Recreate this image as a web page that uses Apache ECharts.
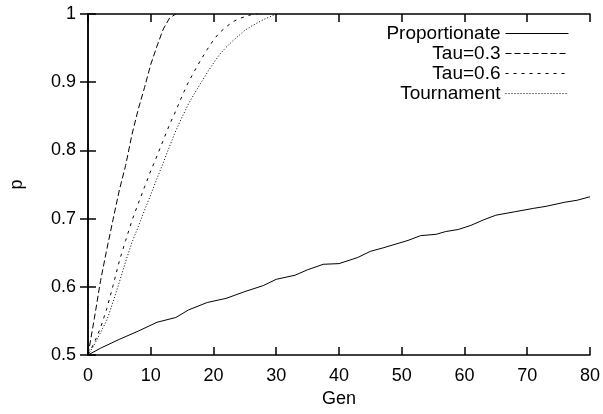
<!DOCTYPE html>
<html>
<head>
<meta charset="utf-8">
<script src="https://cdn.jsdelivr.net/npm/echarts@6/dist/echarts.min.js"></script>
<style>
  html, body { margin: 0; padding: 0; background: #fff; }
  #chart { width: 603px; height: 414px; }
</style>
</head>
<body>
<div id="chart"></div>
<script>
// values
var propGen = [0, 2, 5, 8, 11, 14, 16, 19, 22, 25, 28, 30, 33, 35, 37.5, 40, 43, 45, 47, 51, 53, 55.5, 57, 59, 61, 63, 65, 68, 71, 73, 76, 78, 80];
var propP = [0.5, 0.51, 0.523, 0.535, 0.548, 0.555, 0.566, 0.577, 0.583, 0.593, 0.602, 0.611, 0.617, 0.625, 0.633, 0.634, 0.643, 0.652, 0.657, 0.668, 0.675, 0.677, 0.681, 0.684, 0.69, 0.698, 0.705, 0.71, 0.715, 0.718, 0.724, 0.727, 0.732];

var tau3Gen = [0, 1, 2, 3, 4, 5, 6, 7, 8, 9, 10, 11, 12, 13, 14];
var tau3P = [0.5, 0.553, 0.609, 0.655, 0.699, 0.742, 0.778, 0.823, 0.86, 0.892, 0.926, 0.953, 0.978, 0.994, 1.0];

var tau6Gen = [0, 1, 2, 3, 4, 5, 6, 7, 8, 9, 10, 11, 12, 13, 14, 15, 16, 17, 18, 19, 20, 21, 22, 23, 24, 25, 26, 27];
var tau6P = [0.5, 0.518, 0.54, 0.568, 0.602, 0.638, 0.668, 0.697, 0.722, 0.746, 0.77, 0.792, 0.815, 0.838, 0.858, 0.88, 0.9, 0.917, 0.933, 0.948, 0.962, 0.973, 0.981, 0.988, 0.993, 0.996, 0.999, 1.0];

var tournGen = [0, 1, 2, 3, 4, 5, 6, 7, 8, 9, 10, 11, 12, 13, 14, 15, 16, 17, 18, 19, 20, 21, 22, 23, 24, 25, 26, 27, 28, 29, 30];
var tournP = [0.5, 0.515, 0.533, 0.551, 0.578, 0.607, 0.637, 0.665, 0.688, 0.712, 0.735, 0.759, 0.782, 0.806, 0.829, 0.849, 0.868, 0.884, 0.899, 0.914, 0.928, 0.941, 0.951, 0.96, 0.968, 0.976, 0.982, 0.987, 0.992, 0.996, 1.0];

var xTicks = { min: 0, max: 80, interval: 10 };
var yTicks = { min: 0.5, max: 1, interval: 0.1 };

var FONT = '"Liberation Sans", Arial, sans-serif';

function pairs(xs, ys) {
    var out = [];
    for (var i = 0; i < xs.length; i++) out.push([xs[i], ys[i]]);
    return out;
}

function mkSeries(name, xs, ys, dash) {
    return {
        name: name,
        type: 'line',
        data: pairs(xs, ys),
        showSymbol: false,
        symbol: 'none',
        lineStyle: { color: '#000', width: 1, type: dash },
        itemStyle: { color: '#000' },
        clip: true
    };
}

var axisLine = { show: true, lineStyle: { color: '#000', width: 1.5 } };
var tick = { show: true, inside: true, length: 8, lineStyle: { color: '#000', width: 1.5 } };

var chart = echarts.init(document.getElementById('chart'), null, { renderer: 'canvas' });
chart.setOption({
    animation: false,
    backgroundColor: '#fff',
    textStyle: { fontFamily: FONT },
    grid: { left: 85, right: 11, top: 14, bottom: 59, containLabel: false },
    legend: {
        orient: 'vertical',
        right: 29,
        top: 19,
        align: 'right',
        itemWidth: 63,
        itemHeight: 14,
        itemGap: 1,
        itemStyle: { opacity: 0 },
        lineStyle: { width: 1 },
        textStyle: { fontFamily: FONT, fontSize: 19, color: '#000' },
        data: ['Proportionate', 'Tau=0.3', 'Tau=0.6', 'Tournament']
    },
    xAxis: [{
        type: 'value',
        min: xTicks.min, max: xTicks.max, interval: xTicks.interval,
        name: 'Gen',
        nameLocation: 'middle',
        nameGap: 34,
        nameTextStyle: { fontFamily: FONT, fontSize: 18, color: '#000' },
        axisLine: axisLine,
        axisTick: tick,
        axisLabel: { fontFamily: FONT, fontSize: 18, color: '#000', margin: 12 },
        splitLine: { show: false }
    }, {
        type: 'value', position: 'top',
        min: xTicks.min, max: xTicks.max, interval: xTicks.interval,
        axisLine: axisLine, axisTick: tick,
        axisLabel: { show: false }, splitLine: { show: false }
    }],
    yAxis: [{
        type: 'value',
        min: yTicks.min, max: yTicks.max, interval: yTicks.interval,
        name: 'p',
        nameLocation: 'middle',
        nameRotate: 90,
        nameGap: 62,
        nameTextStyle: { fontFamily: FONT, fontSize: 18, color: '#000' },
        axisLine: axisLine,
        axisTick: tick,
        axisLabel: {
            fontFamily: FONT, fontSize: 18, color: '#000', margin: 12,
            formatter: function (v) { return Math.abs(v - 1) < 1e-9 ? '1' : v.toFixed(1); }
        },
        splitLine: { show: false }
    }, {
        type: 'value', position: 'right',
        min: yTicks.min, max: yTicks.max, interval: yTicks.interval,
        axisLine: axisLine, axisTick: tick,
        axisLabel: { show: false }, splitLine: { show: false }
    }],
    series: [
        mkSeries('Proportionate', propGen, propP, 'solid'),
        mkSeries('Tau=0.3', tau3Gen, tau3P, [6, 3]),
        mkSeries('Tau=0.6', tau6Gen, tau6P, [3, 5]),
        mkSeries('Tournament', tournGen, tournP, [1, 2])
    ]
});
</script>
</body>
</html>
